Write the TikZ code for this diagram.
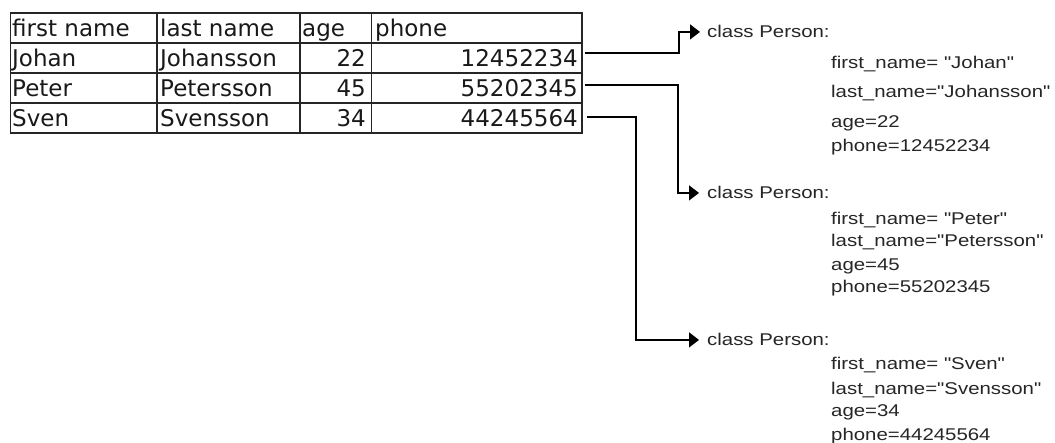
\documentclass[tikz,border=0pt]{standalone}
\usepackage{fontspec}
\newfontfamily\tabfont{DejaVu Sans}
\newfontfamily\objfont[FakeStretch=1.2]{Liberation Sans}
\usetikzlibrary{arrows.meta,calc}
\begin{document}
\begin{tikzpicture}[x=1pt,y=-1pt,
  grid/.style={line width=1.5pt, draw=black!85},
  cell/.style={inner sep=0pt, font=\tabfont\fontsize{23}{23}\selectfont, text=black!90},
  lcell/.style={cell, anchor=base west},
  rcell/.style={cell, anchor=base east},
  obj/.style={inner sep=0pt, anchor=base west, font=\objfont\fontsize{17}{17}\selectfont, text=black!85},
  conn/.style={line width=1.5pt, draw=black},
  arr/.style={conn, -{Triangle[length=10pt,width=15pt]}}]
\useasboundingbox[fill=white] (0,0) rectangle (1055,443);
% table grid
\draw[grid] (10.5,13) rectangle (582,133);
\foreach \y in {43,73,103} \draw[grid] (10.5,\y) -- (582,\y);
\foreach \x in {157,300,371.5} \draw[grid] (\x,13) -- (\x,133);
% header
\node[lcell] (h1) at (12,37) {first name};
\node[lcell] (h2) at (160,37) {last name};
\node[lcell] (h3) at (302,37) {age};
\node[lcell] (h4) at (375,37) {phone};
% rows
\node[lcell] (f1) at (12,67) {Johan};
\node[lcell] (l1) at (160,67) {Johansson};
\node[rcell] (a1) at (366,67) {22};
\node[rcell] (ph1) at (578,67) {12452234};
\node[lcell] (f2) at (12,97) {Peter};
\node[lcell] (l2) at (160,97) {Petersson};
\node[rcell] (a2) at (366,97) {45};
\node[rcell] (ph2) at (578,97) {55202345};
\node[lcell] (f3) at (12,127) {Sven};
\node[lcell] (l3) at (160,127) {Svensson};
\node[rcell] (a3) at (366,127) {34};
\node[rcell] (ph3) at (578,127) {44245564};
% objects
\node[obj] (c1) at (707,38) {class Person:};
\node[obj] (c1a) at (831,69) {first\_name= "Johan"};
\node[obj] (c1b) at (831,98) {last\_name="Johansson"};
\node[obj] (c1c) at (831,128) {age=22};
\node[obj] (c1d) at (831,152) {phone=12452234};
\node[obj] (c2) at (707,199) {class Person:};
\node[obj] (c2a) at (831,225) {first\_name= "Peter"};
\node[obj] (c2b) at (831,247) {last\_name="Petersson"};
\node[obj] (c2c) at (831,271) {age=45};
\node[obj] (c2d) at (831,293) {phone=55202345};
\node[obj] (c3) at (707,346) {class Person:};
\node[obj] (c3a) at (831,370) {first\_name= "Sven"};
\node[obj] (c3b) at (831,395) {last\_name="Svensson"};
\node[obj] (c3c) at (831,417) {age=34};
\node[obj] (c3d) at (831,440) {phone=44245564};
% connectors
\coordinate (e1) at ([xshift=7pt,yshift=5.6pt]ph1.east);
\coordinate (e2) at ([xshift=7pt,yshift=3.6pt]ph2.east);
\coordinate (e3) at ([xshift=9pt,yshift=1.6pt]ph3.east);
\draw[arr] (e1) -| ([xshift=-28pt]c1.west) -- ([xshift=-7pt]c1.west);
\draw[arr] (e2) -| ([xshift=-29pt]c2.west) -- ([xshift=-8pt]c2.west);
\draw[arr] (e3) -| ([xshift=-71pt]c3.west) -- ([xshift=-8pt]c3.west);
\end{tikzpicture}
\end{document}
